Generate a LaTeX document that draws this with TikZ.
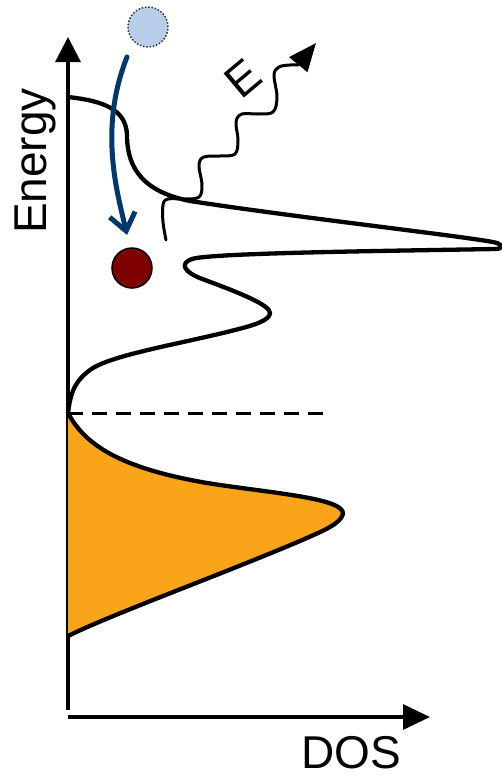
\documentclass[tikz,border=0pt]{standalone}
\usepackage{fontspec}
\setmainfont{Liberation Sans}
\usetikzlibrary{arrows.meta}
\definecolor{dosorange}{RGB}{250,165,25}
\definecolor{navyarrow}{RGB}{0,56,110}
\definecolor{lightball}{RGB}{184,206,234}
\definecolor{darkball}{RGB}{127,0,0}
\tikzset{
  axisline/.style={line width=3.2pt,black},
  doscurve/.style={line width=4.3pt,black,line join=round,line cap=round},
  bigfont/.style={font=\fontsize{46}{50}\selectfont,inner sep=0pt},
  ball/.style={circle,minimum size=40pt,inner sep=0pt}
}
\begin{document}
\begin{tikzpicture}[x=1pt,y=-1pt]
\useasboundingbox (0,0) rectangle (502,777);
% axes
\coordinate (ybot) at (68,710);
\coordinate (ytop) at (68,37);
\coordinate (xleft) at (68,717);
\coordinate (xright) at (430,717);
\draw[axisline,-{Triangle[length=25pt,width=25pt]}] (ybot) -- (ytop);
\draw[axisline,-{Triangle[length=27pt,width=25pt]}] (xleft) -- (xright);
\node[bigfont,rotate=90] (elabel) at (35.5,161) {Energy};
\node[bigfont] (doslabel) at (351,753) {DOS};
% filled band
\fill[dosorange] (68,413) .. controls (85,445) and (120,468) .. (207,483)
  .. controls (270,493) and (345,498) .. (343,514)
  .. controls (340,524) and (325,530) .. (300,541)
  .. controls (220,575) and (110,615) .. (68,636) -- cycle;
\draw[doscurve] (68,413) .. controls (85,445) and (120,468) .. (207,483)
  .. controls (270,493) and (345,498) .. (343,514)
  .. controls (340,524) and (325,530) .. (300,541)
  .. controls (220,575) and (110,615) .. (68,636);
% dashed Fermi level
\coordinate (fl) at (68,413);
\coordinate (fr) at (323,413);
\draw[line width=3pt,dash pattern=on 15pt off 9pt] (fl) -- (fr);
% upper DOS curve
\draw[doscurve] (68,97) .. controls (105,101) and (126,110) .. (127,135)
  .. controls (127,170) and (145,192) .. (190,201)
  .. controls (300,218) and (480,238) .. (497,243)
  .. controls (503,245) and (503,249) .. (495,249)
  .. controls (380,251) and (210,253) .. (192,259)
  .. controls (180,263) and (182,272) .. (205,280)
  .. controls (240,293) and (270,305) .. (270,313)
  .. controls (270,320) and (255,325) .. (235,330)
  .. controls (180,344) and (110,355) .. (90,370)
  .. controls (72,383) and (70,398) .. (68,413);
% wavy photon
\draw[line width=3pt,line cap=round,line join=round,-{Triangle[length=28pt,width=23pt]}]
  plot[smooth,tension=0.6] coordinates {(166,240) (163,222) (163,205) (168,199) (185,199) (199,197) (202,185) (199,165) (204,157) (220,156) (235,154) (238,140) (236,122) (242,114) (258,114) (273,112) (277,97) (274,75) (279,67) (290,65) (298,65)} -- (316,43);
\node[bigfont,rotate=40] (elbl) at (243,79) {E};
% balls
\node[ball,fill=lightball,draw=black!80,line width=1.5pt,dash pattern=on 1.5pt off 1.8pt] (hot) at (148,27) {};
\node[ball,fill=darkball,draw=black,line width=1.5pt] (cold) at (132,268) {};
\coordinate (a1) at (127,57);
\coordinate (a2) at (127,235);
\draw[navyarrow,line width=5pt,line cap=round,line join=round,-{Straight Barb[length=17pt,width=26pt]}] (a1) .. controls (98,130) and (118,195) .. (a2);
\end{tikzpicture}
\end{document}
